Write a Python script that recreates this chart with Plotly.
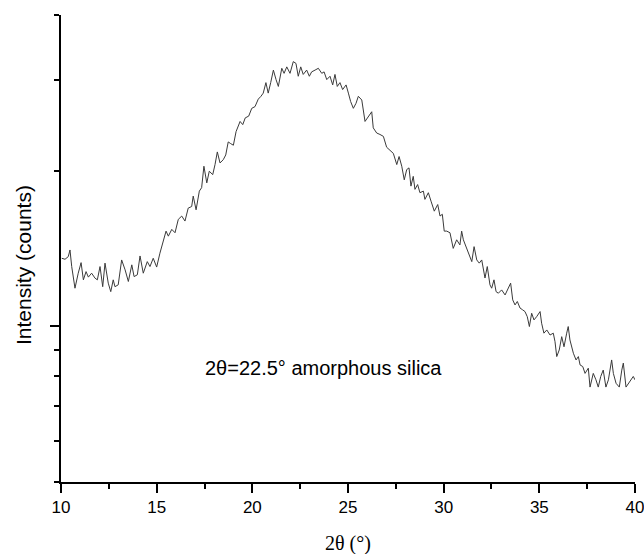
import plotly.graph_objects as go

two_theta = [10.04, 10.21, 10.38, 10.47, 10.56, 10.73, 10.90, 11.05, 11.17, 11.31, 11.43, 11.60, 11.78, 11.90,
             12.04, 12.18, 12.30, 12.47, 12.60, 12.73, 12.82, 12.99, 13.17, 13.35, 13.52, 13.70, 13.82, 13.99,
             14.13, 14.30, 14.51, 14.65, 14.82, 15.00, 15.17, 15.35, 15.49, 15.61, 15.79, 15.96, 16.13, 16.31,
             16.48, 16.65, 16.83, 16.91, 17.06, 17.23, 17.35, 17.47, 17.62, 17.75, 17.93, 18.05, 18.17, 18.31,
             18.48, 18.61, 18.74, 18.87, 19.01, 19.15, 19.36, 19.50, 19.63, 19.81, 19.97, 20.14, 20.31, 20.45,
             20.57, 20.71, 20.83, 20.96, 21.10, 21.24, 21.36, 21.54, 21.66, 21.80, 21.97, 22.14, 22.28, 22.40,
             22.53, 22.66, 22.84, 22.98, 23.10, 23.28, 23.45, 23.63, 23.75, 23.89, 24.06, 24.20, 24.32, 24.44,
             24.58, 24.72, 24.90, 25.02, 25.14, 25.28, 25.42, 25.54, 25.72, 25.89, 26.06, 26.24, 26.32, 26.50,
             26.67, 26.85, 27.02, 27.20, 27.37,
             27.55, 27.67, 27.81, 27.94, 28.07, 28.19, 28.29, 28.41, 28.50, 28.64, 28.76, 28.94, 29.02, 29.20,
             29.34, 29.51, 29.69, 29.81, 29.93, 30.03,
             30.16, 30.33,
             30.50, 30.68, 30.85, 30.94, 31.03, 31.17, 31.29, 31.47, 31.59, 31.73, 31.86, 31.99,
             32.16, 32.28, 32.42, 32.51, 32.63, 32.74, 32.86, 33.03, 33.21, 33.38, 33.50, 33.61, 33.73, 33.85,
             33.99,
             34.13, 34.25, 34.37,
             34.48, 34.60, 34.72, 34.86, 35.04, 35.12, 35.24, 35.39, 35.56, 35.73, 35.82, 35.91, 36.04, 36.17,
             36.29, 36.43, 36.51, 36.60, 36.78, 36.92, 37.04, 37.13, 37.27, 37.39, 37.56, 37.65, 37.82, 37.96,
             38.08, 38.21, 38.34, 38.48, 38.61, 38.78, 38.87, 39.01, 39.18, 39.31, 39.39, 39.53, 39.65, 39.78,
             39.91, 40.00]

intensity = [135.4, 134.8, 136.4, 140.5, 130.5, 118.5, 126.7, 132.8, 123.0, 127.6, 124.5, 126.7, 123.9, 123.0,
             130.5, 119.3, 132.5, 121.2, 116.7, 123.0, 119.3, 120.3, 134.4, 128.6, 122.1, 131.5, 124.8, 125.8,
             136.8, 126.7, 133.4, 130.5, 135.4, 130.2, 138.5, 147.0, 152.8, 149.4, 154.0, 151.7, 161.0, 163.4,
             159.8, 169.3, 170.5, 178.6, 168.0, 182.6, 185.4, 204.0, 189.4, 199.5, 196.5, 205.5, 217.4, 207.0,
             210.0, 214.5, 227.3, 225.6, 224.0, 238.0, 249.0, 245.5, 253.0, 255.0, 264.0, 266.0, 275.0, 278.5,
             282.5, 296.0, 282.5, 296.0, 313.0, 300.0, 291.0, 315.5, 308.5, 317.5, 308.5, 325.0, 322.5, 304.5,
             317.5, 307.0, 313.0, 304.5, 310.5, 313.0, 315.5, 308.5, 310.5, 300.0, 304.5, 293.0, 307.0, 291.0,
             296.0, 287.0, 293.0, 282.5, 272.0, 264.0, 270.0, 278.5, 274.0, 249.0, 255.0, 260.0, 242.0, 236.5,
             235.0, 233.0, 222.0, 219.0, 216.0,
             205.5, 213.0, 204.0, 192.0, 201.0, 202.5, 186.7, 195.0, 184.0, 188.0, 181.3, 182.6, 176.0, 181.3,
             174.6, 167.0, 172.0, 163.4, 164.7, 152.8,
             152.8, 151.7,
             141.5, 147.0, 143.7, 152.8, 147.0, 142.6, 138.5, 133.4, 142.6, 134.4, 132.5, 134.4,
             124.0, 130.5, 120.3, 118.5, 123.0, 116.7, 115.9, 117.6, 115.0, 118.5, 121.2, 112.5, 110.0, 111.7,
             108.5,
             107.6, 106.8, 104.4,
             99.9, 106.0, 102.9, 104.4, 106.8, 101.4, 97.0, 98.4, 96.2, 97.0, 93.4, 87.4, 90.0, 95.5,
             91.3, 97.0, 99.9, 94.1, 88.7, 86.1, 87.4, 84.2, 83.6, 81.1, 83.0, 76.3, 81.1, 78.8,
             76.3, 80.0, 82.3, 76.3, 78.8, 86.1, 81.1, 77.6, 76.3, 82.3, 84.9, 76.3, 77.6, 78.8,
             80.0, 78.8]

x_ticks = [10, 15, 20, 25, 30, 35, 40]
x_tick_labels = ["10", "15", "20", "25", "30", "35", "40"]
x_minor = [12.5, 17.5, 22.5, 27.5, 32.5, 37.5]
y_major = [100]
y_minor = [50, 60, 70, 80, 90, 200, 300, 400]

fig = go.Figure()
fig.add_trace(go.Scatter(x=two_theta, y=intensity, mode="lines",
                         line=dict(color="#3a3a3a", width=1), showlegend=False, cliponaxis=False))

fig.update_layout(
    width=644, height=554,
    margin=dict(l=61, r=9, t=15, b=72),
    paper_bgcolor="white", plot_bgcolor="white",
    font=dict(family="Liberation Sans, Arial, sans-serif", color="black"),
    xaxis=dict(range=[10, 40.0005], tickmode="array", tickvals=x_ticks, ticktext=x_tick_labels,
               ticks="outside", ticklen=9, tickwidth=1.5, tickcolor="black", automargin=False,
               showline=True, linecolor="black", linewidth=1.5, showgrid=False, zeroline=False,
               tickfont=dict(size=17, family="Liberation Sans, Arial, sans-serif"),
               ticklabeloverflow="allow",
               minor=dict(tickmode="array", tickvals=x_minor, ticks="outside", ticklen=5, tickwidth=1.5,
                          tickcolor="black", showgrid=False)),
    yaxis=dict(type="log", range=[1.69897, 2.60206], tickmode="array", tickvals=y_major,
               showticklabels=False, ticks="outside", ticklen=9, tickwidth=1.5, tickcolor="black",
               automargin=False,
               showline=True, linecolor="black", linewidth=1.5, showgrid=False, zeroline=False,
               minor=dict(tickmode="array", tickvals=y_minor, ticks="outside", ticklen=5,
                          tickwidth=1.5, tickcolor="black", showgrid=False)),
    annotations=[
        dict(text="2θ=22.5° amorphous silica", xref="paper", yref="paper", x=0.457, y=0.244,
             showarrow=False, xanchor="center", yanchor="middle",
             font=dict(size=20, family="Liberation Sans, Arial, sans-serif", color="black")),
        dict(text="2θ (°)", xref="paper", yref="paper", x=0.5, y=(482 - 543) / 467,
             showarrow=False, xanchor="center", yanchor="middle",
             font=dict(size=20, family="Liberation Serif, Times New Roman, serif", color="black")),
        dict(text="Intensity (counts)", xref="paper", yref="paper", x=(23 - 61) / 574, y=(482 - 265) / 467,
             showarrow=False, xanchor="center", yanchor="middle", textangle=-90,
             font=dict(size=21, family="Liberation Sans, Arial, sans-serif", color="black")),
    ],
)

fig.write_html("out.html")
